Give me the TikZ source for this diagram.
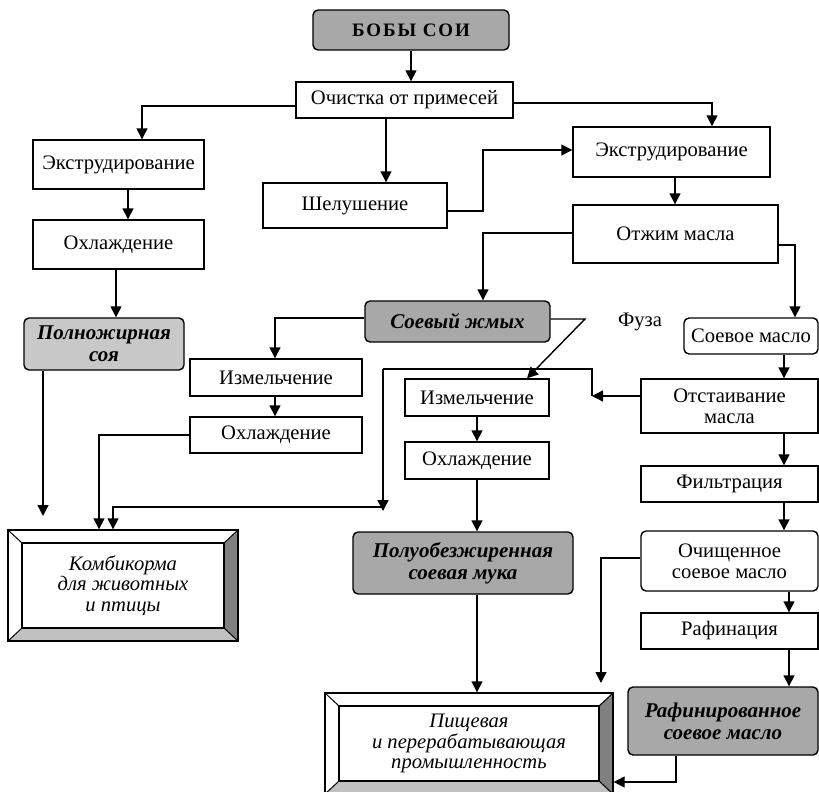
\documentclass[tikz,border=0pt]{standalone}
\usepackage{fontspec}
\setmainfont{Liberation Serif}
\usetikzlibrary{arrows.meta,calc}
\definecolor{gr}{RGB}{168,168,168}
\definecolor{lgr}{RGB}{200,200,200}
\definecolor{dk}{RGB}{128,128,128}
\definecolor{lt}{RGB}{192,192,192}
\begin{document}
\begin{tikzpicture}[x=1pt,y=-1pt,
  font=\fontsize{20.6}{21}\selectfont,
  box/.style={draw, line width=1.4pt, inner sep=0pt, align=center, fill=white},
  rbox/.style={box, rounded corners=5pt},
  grey/.style={rbox, fill=gr, font=\fontsize{21}{22}\selectfont\bfseries\itshape},
  arr/.style={line width=1.4pt, -{Triangle[length=11pt,width=11pt]}},
  ln/.style={line width=1.4pt},
  bevel/.style={draw, line width=1.4pt, fill=white, inner sep=0pt, align=center,
    font=\fontsize{20.6}{20.5}\selectfont\itshape,
    path picture={
      \coordinate (nw) at (path picture bounding box.north west);
      \coordinate (ne) at (path picture bounding box.north east);
      \coordinate (sw) at (path picture bounding box.south west);
      \coordinate (se) at (path picture bounding box.south east);
      \fill[lt] (sw) -- (se) -- ($(se)+(-14,-13)$) -- ($(sw)+(14,-13)$) -- cycle;
      \fill[dk] (ne) -- (se) -- ($(se)+(-14,-13)$) -- ($(ne)+(-14,13)$) -- cycle;
      \draw[line width=1.2pt] ($(nw)+(14,13)$) rectangle ($(se)+(-14,-13)$);
      \draw[line width=1pt] (nw) -- ($(nw)+(14,13)$) (ne) -- ($(ne)+(-14,13)$)
        (sw) -- ($(sw)+(14,-13)$) (se) -- ($(se)+(-14,-13)$);
    }}]
\useasboundingbox (0,0) rectangle (819,792);

% nodes
\node[rbox, fill=gr, minimum width=196pt, minimum height=40pt,
  font=\fontsize{19}{20}\selectfont\bfseries\addfontfeatures{LetterSpace=10}] (bobs) at (411,30) {БОБЫ СОИ};
\node[box, minimum width=217pt, minimum height=36pt] (och) at (404.5,100) {Очистка от примесей};
\node[box, minimum width=171pt, minimum height=49pt] (ex1) at (118.5,164.5) {Экструдирование};
\node[box, minimum width=171pt, minimum height=49pt] (oh1) at (118.5,244.5) {Охлаждение};
\node[grey, fill=lgr, minimum width=160pt, minimum height=52pt] (poln) at (104,344) {Полножирная\\соя};
\node[box, minimum width=184pt, minimum height=45pt] (shel) at (355,205.5) {Шелушение};
\node[box, minimum width=197pt, minimum height=50pt] (ex2) at (671.5,152) {Экструдирование};
\node[box, minimum width=205pt, minimum height=58pt] (otzh) at (675.5,234) {Отжим масла};
\node[grey, minimum width=185pt, minimum height=41pt] (zhmyh) at (457.5,321.5) {Соевый жмых};
\node[box, minimum width=172pt, minimum height=37pt] (izm1) at (276,377.5) {Измельчение};
\node[box, minimum width=172pt, minimum height=36pt] (oh2) at (276,435) {Охлаждение};
\node[box, minimum width=144pt, minimum height=37pt] (izm2) at (477,397.5) {Измельчение};
\node[box, minimum width=144pt, minimum height=37pt] (oh3) at (477,460.5) {Охлаждение};
\node[grey, minimum width=220pt, minimum height=62pt] (polu) at (463,563) {Полуобезжиренная\\соевая мука};
\node[bevel, minimum width=230pt, minimum height=111pt] (kombi) at (123,585.5) {Комбикорма\\для животных\\и птицы};
\node[bevel, minimum width=288pt, minimum height=101pt] (pish) at (469,743.5) {Пищевая\\и перерабатывающая\\промышленность};
\node[rbox, minimum width=134pt, minimum height=36pt] (soev) at (751,336) {Соевое масло};
\node[box, minimum width=177pt, minimum height=54pt] (otst) at (729.5,406) {Отстаивание\\масла};
\node[box, minimum width=177pt, minimum height=36pt] (filt) at (729.5,484) {Фильтрация};
\node[rbox, minimum width=177pt, minimum height=60pt] (ochish) at (729.5,561) {Очищенное\\соевое масло};
\node[box, minimum width=177pt, minimum height=36pt] (raf) at (729.5,631) {Рафинация};
\node[grey, minimum width=190pt, minimum height=68pt] (rafin) at (723,721) {Рафинированное\\соевое масло};
\node (fuza) at (640,322) {Фуза};

% free ends
\coordinate (e1) at (43,516);
\coordinate (fz) at (592,396);
\coordinate (m1) at (383,511);
\coordinate (e2) at (601,683);

% connectors
\draw[arr] (bobs.south) -- (bobs.south |- och.north);
\draw[arr] (och.west |- 0,106) -| (ex1.north -| 142,0);
\draw[arr] (ex1.south -| 128,0) -- (oh1.north -| 128,0);
\draw[arr] (oh1.south -| 116,0) -- (poln.north -| 116,0);
\draw[arr] (poln.south -| 43,0) -- (e1);
\draw[arr] (och.south -| 386,0) -- (shel.north -| 386,0);
\draw[arr] (shel.east |- 0,211) -| (483,150) -- (ex2.west |- 0,150);
\draw[arr] (och.east |- 0,103) -| (ex2.north -| 712,0);
\draw[arr] (ex2.south -| 675,0) -- (otzh.north -| 675,0);
\draw[arr] (otzh.west |- 0,233) -| (zhmyh.north -| 483,0);
\draw[arr] (otzh.east |- 0,245) -| (soev.north -| 795,0);
\draw[arr] (zhmyh.west |- 0,318) -| (izm1.north -| 275,0);
\draw[arr] (izm1.south -| 275,0) -- (oh2.north -| 275,0);
\draw[arr] (oh2.west |- 0,435) -| (kombi.north -| 99,0);
\draw[arr] (zhmyh.east |- 0,319) -- (585,319) -- (izm2.north -| 527,0);
\draw[arr] (izm2.south) -- (oh3.north);
\draw[arr] (oh3.south) -- (polu.north -| oh3.south);
\draw[arr] (polu.south -| 477,0) -- (pish.north -| 477,0);
\draw[arr] (otst.west |- 0,396) -- (fz);
\draw[ln] (fz) |- (383,369);
\draw[arr] (383,369) -- (m1);
\draw[arr] (m1 |- 0,507) -| (kombi.north -| 113,0);
\draw[arr] (soev.south -| 784,0) -- (otst.north -| 784,0);
\draw[arr] (otst.south -| 784,0) -- (filt.north -| 784,0);
\draw[arr] (filt.south -| 784,0) -- (ochish.north -| 784,0);
\draw[arr] (ochish.south -| 789,0) -- (raf.north -| 789,0);
\draw[arr] (raf.south -| 789,0) -- (rafin.north -| 789,0);
\draw[arr] (rafin.south -| 676,0) |- (pish.east |- 0,782);
\draw[arr] (ochish.west |- 0,558) -| (e2);
\end{tikzpicture}
\end{document}
